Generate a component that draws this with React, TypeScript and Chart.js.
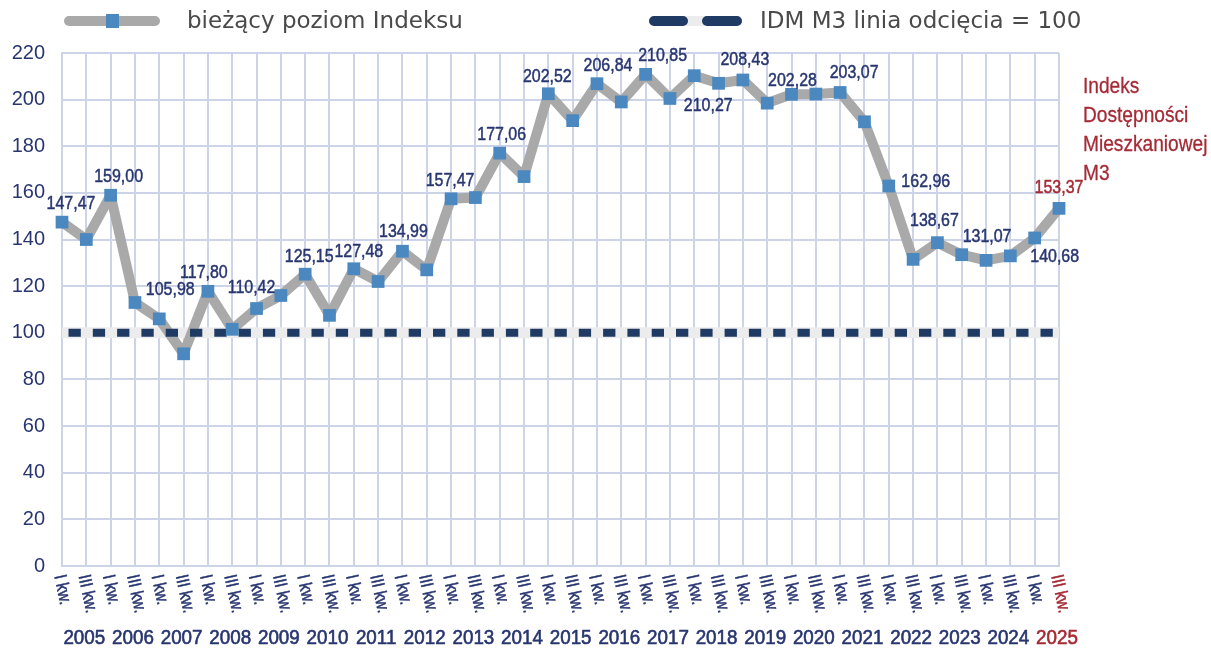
import React, { useEffect, useRef } from 'react';
import { Chart, registerables } from 'chart.js';

Chart.register(...registerables);

// ---------- data ----------
const years = [
  '2005', '2006', '2007', '2008', '2009', '2010', '2011', '2012', '2013', '2014', '2015',
  '2016', '2017', '2018', '2019', '2020', '2021', '2022', '2023', '2024', '2025',
];
const quarterNames = ['I kw.', 'III kw.'];

const indexValues = [
  147.47, 140.0, 159.0, 113.0, 105.98, 91.0, 117.8, 101.5, 110.42, 116.0,
  125.15, 107.5, 127.48, 122.0, 134.99, 127.0, 157.47, 158.0, 177.06, 167.0,
  202.52, 191.0, 206.84, 199.0, 210.85, 200.5, 210.27, 207.0, 208.43, 198.5,
  202.28, 202.4, 203.07, 190.5, 162.96, 131.5, 138.67, 133.5, 131.07, 133.0,
  140.68, 153.37,
];
const cutoffValue = 100;

const labelledPoints = [0, 2, 4, 6, 8, 10, 12, 14, 16, 18, 20, 22, 24, 26, 28, 30, 32, 34, 36, 38, 40, 41];

const legendSeries = 'bieżący poziom Indeksu';
const legendCutoff = 'IDM M3 linia odcięcia = 100';
const sideTitle = ['Indeks', 'Dostępności', 'Mieszkaniowej', 'M3'];

const yMin = 0;
const yMax = 220;
const yGridStep = 10;
const yLabelStep = 20;

// ---------- placement / style ----------
const labelOffsets: Record<number, [number, number]> = {
  0: [9, -18], 2: [8, -18], 4: [11, -29], 6: [-4, -19], 8: [-5, -21], 10: [4, -17],
  12: [5, -17], 14: [1, -19], 16: [-1, -18], 18: [2, -18], 20: [-1, -17], 22: [11, -18],
  24: [17, -19], 26: [14, 30], 28: [2, -20], 30: [1, -14], 32: [14, -20], 34: [37, -4],
  36: [-3, -22], 38: [1, -24], 40: [20, 19], 41: [0, -21],
};

const NAVY = '#283670';
const RED = '#a52a35';
const GRID = '#cdd4e8';
const SANS = '"Liberation Sans", Arial, sans-serif';
const LEGEND_FONT = '"DejaVu Sans", sans-serif';

const categories = years.flatMap((y) => quarterNames.map((q) => `${q} ${y}`));
const cutoffData = categories.map(() => cutoffValue);

const fmt = (v: number) => v.toFixed(2).replace('.', ',');

// text drawn with horizontal compression (condensed look) and optional faux weight
function narrowText(
  ctx: CanvasRenderingContext2D,
  text: string,
  x: number,
  y: number,
  sx: number,
  rot = 0,
  weight = 0,
) {
  ctx.save();
  ctx.translate(x, y);
  if (rot) ctx.rotate(rot);
  ctx.scale(sx, 1);
  ctx.fillText(text, 0, 0);
  if (weight > 0) {
    ctx.strokeStyle = ctx.fillStyle as string;
    ctx.lineWidth = weight;
    ctx.lineJoin = 'round';
    ctx.strokeText(text, 0, 0);
  }
  ctx.restore();
}

const overlayPlugin = {
  id: 'overlay',
  afterDatasetsDraw(chart: any) {
    const ctx = chart.ctx as CanvasRenderingContext2D;
    const meta = chart.getDatasetMeta(3);
    ctx.save();
    ctx.font = `19px ${SANS}`;
    ctx.textAlign = 'center';
    ctx.textBaseline = 'middle';
    labelledPoints.forEach((i) => {
      const pt = meta.data[i];
      const off = labelOffsets[i] || [0, -18];
      ctx.fillStyle = i === indexValues.length - 1 ? RED : NAVY;
      narrowText(ctx, fmt(indexValues[i]), pt.x + off[0], pt.y + off[1], 0.84, 0, 0.5);
    });
    ctx.restore();
  },
  afterDraw(chart: any) {
    const ctx = chart.ctx as CanvasRenderingContext2D;
    const xs = chart.scales.x;
    const area = chart.chartArea;
    const last = categories.length - 1;
    ctx.save();

    // rotated quarter labels
    ctx.font = `18px ${SANS}`;
    ctx.textAlign = 'left';
    ctx.textBaseline = 'middle';
    categories.forEach((_, i) => {
      const x = xs.getPixelForValue(i);
      ctx.fillStyle = i === last ? RED : NAVY;
      narrowText(ctx, quarterNames[i % 2], x - 3, area.bottom + 9, 0.84, (78 * Math.PI) / 180, 0.5);
    });

    // year labels
    ctx.font = `20px ${SANS}`;
    ctx.textAlign = 'center';
    ctx.textBaseline = 'middle';
    years.forEach((y, k) => {
      const x = xs.getPixelForValue(k * 2 + 1);
      ctx.fillStyle = k === years.length - 1 ? RED : NAVY;
      narrowText(ctx, y, x - 2, area.bottom + 72, 0.94, 0, 0.6);
    });

    // side title
    ctx.font = `22px ${SANS}`;
    ctx.textAlign = 'left';
    ctx.fillStyle = RED;
    sideTitle.forEach((t, k) => {
      narrowText(ctx, t, area.right + 24, 87 + k * 29, 0.87, 0, 0.3);
    });

    // legend
    const ly = 21;
    ctx.lineCap = 'round';
    ctx.lineWidth = 10;
    ctx.strokeStyle = '#a9a9a9';
    ctx.beginPath();
    ctx.moveTo(69, ly);
    ctx.lineTo(155, ly);
    ctx.stroke();
    ctx.fillStyle = '#4a88bf';
    ctx.fillRect(106, ly - 7, 13, 14);
    ctx.font = `23px ${LEGEND_FONT}`;
    ctx.fillStyle = '#4a4a4a';
    ctx.textAlign = 'left';
    ctx.textBaseline = 'middle';
    ctx.fillText(legendSeries, 187, ly + 1);

    ctx.strokeStyle = '#ececec';
    ctx.beginPath();
    ctx.moveTo(654, ly);
    ctx.lineTo(737, ly);
    ctx.stroke();
    ctx.strokeStyle = '#1f3b64';
    ctx.beginPath();
    ctx.moveTo(654, ly);
    ctx.lineTo(683, ly);
    ctx.moveTo(707, ly);
    ctx.lineTo(737, ly);
    ctx.stroke();
    ctx.fillStyle = '#4a4a4a';
    ctx.fillText(legendCutoff, 760, ly + 1);

    ctx.restore();
  },
};

export default function App() {
  const ref = useRef<HTMLCanvasElement | null>(null);

  useEffect(() => {
    if (!ref.current) return;
    const chart = new Chart(ref.current, {
      type: 'line',
      data: {
        labels: categories,
        datasets: [
          {
            label: 'band',
            data: cutoffData,
            borderColor: '#ececec',
            borderWidth: 11,
            pointRadius: 0,
            borderCapStyle: 'butt',
            order: 4,
            clip: false,
          },
          {
            label: legendSeries,
            data: indexValues,
            borderColor: '#a9a9a9',
            borderWidth: 10,
            borderJoinStyle: 'round',
            borderCapStyle: 'round',
            pointRadius: 0,
            tension: 0,
            order: 3,
            clip: false,
          },
          {
            label: legendCutoff,
            data: cutoffData,
            borderColor: '#1f3b64',
            borderWidth: 8,
            borderDash: [12.3, 12],
            borderDashOffset: 17.8,
            borderCapStyle: 'butt',
            pointRadius: 0,
            order: 2,
            clip: false,
          },
          {
            label: 'points',
            data: indexValues,
            showLine: false,
            pointStyle: 'rect',
            pointRadius: 9,
            pointBackgroundColor: '#4a88bf',
            pointBorderColor: '#4a88bf',
            pointBorderWidth: 0,
            order: 1,
            clip: false,
          },
        ],
      },
      options: {
        responsive: false,
        devicePixelRatio: 1,
        animation: false,
        layout: { padding: { top: 53, right: 152, left: 0, bottom: 0 } },
        plugins: {
          legend: { display: false },
          tooltip: { enabled: false },
        },
        scales: {
          x: {
            type: 'category',
            offset: false,
            grid: { color: GRID, lineWidth: 2, drawTicks: false },
            border: { color: GRID, width: 2 },
            ticks: { display: false, autoSkip: false },
            afterFit: (s: any) => {
              s.height = 82;
            },
          },
          y: {
            min: yMin,
            max: yMax,
            grid: { color: GRID, lineWidth: 2, drawTicks: false },
            border: { color: GRID, width: 2 },
            ticks: {
              stepSize: yGridStep,
              padding: 17,
              color: NAVY,
              font: { family: SANS, size: 20 },
              callback: (v: any) => (Number(v) % yLabelStep === 0 ? String(v) : ''),
            },
            afterFit: (s: any) => {
              s.width = 62;
            },
          },
        },
      },
      plugins: [overlayPlugin],
    } as any);
    return () => chart.destroy();
  }, []);

  return (
    <div style={{ position: 'absolute', left: 0, top: 0, width: 1211, height: 648, background: '#fff' }}>
      <canvas ref={ref} width={1211} height={648} style={{ display: 'block', width: 1211, height: 648 }} />
    </div>
  );
}
